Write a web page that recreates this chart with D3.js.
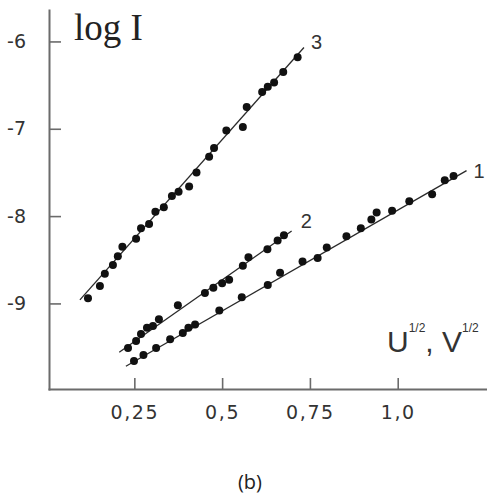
<!DOCTYPE html>
<html>
<head>
<meta charset="utf-8">
<script src="https://cdn.jsdelivr.net/npm/d3@7"></script>
<style>
  html, body { margin: 0; padding: 0; background: #fff; }
  svg { display: block; }
</style>
</head>
<body>
<svg id="chart" width="487" height="497"></svg>
<script>
// ---- data ----
const xTickValues = [0.25, 0.5, 0.75, 1.0];
const xTickLabels = ["0,25", "0,5", "0,75", "1,0"];
const yTickValues = [-6, -7, -8, -9];
const yTickLabels = ["-6", "-7", "-8", "-9"];

const seriesNames = ["1", "2", "3"];

const s1X = [0.249, 0.276, 0.312, 0.352, 0.388, 0.404, 0.423, 0.492, 0.556, 0.630, 0.665, 0.729,
             0.772, 0.798, 0.854, 0.895, 0.925, 0.940, 0.984, 1.033, 1.098, 1.134, 1.159];
const s1Y = [-9.66, -9.59, -9.51, -9.41, -9.34, -9.28, -9.24, -9.08, -8.93, -8.79, -8.65, -8.52,
             -8.48, -8.36, -8.23, -8.14, -8.04, -7.96, -7.94, -7.83, -7.75, -7.59, -7.54];
const fit1X = [0.226, 1.196];
const fit1Y = [-9.72, -7.48];

const s2X = [0.232, 0.255, 0.269, 0.286, 0.303, 0.320, 0.374, 0.451, 0.475, 0.500, 0.520, 0.559,
             0.575, 0.629, 0.658, 0.676];
const s2Y = [-9.51, -9.43, -9.35, -9.28, -9.26, -9.18, -9.02, -8.88, -8.82, -8.77, -8.73, -8.57,
             -8.47, -8.38, -8.28, -8.22];
const fit2X = [0.207, 0.698];
const fit2Y = [-9.56, -8.17];

const s3X = [0.118, 0.152, 0.166, 0.189, 0.203, 0.216, 0.255, 0.269, 0.292, 0.310, 0.334, 0.357,
             0.376, 0.406, 0.427, 0.463, 0.477, 0.512, 0.559, 0.570, 0.614, 0.630, 0.648, 0.674, 0.715];
const s3Y = [-8.94, -8.80, -8.66, -8.56, -8.46, -8.35, -8.26, -8.14, -8.09, -7.95, -7.90, -7.77,
             -7.72, -7.66, -7.50, -7.32, -7.22, -7.02, -6.98, -6.75, -6.58, -6.52, -6.47, -6.35, -6.18];
const fit3X = [0.095, 0.733];
const fit3Y = [-8.96, -6.07];

// ---- drawing ----
const svg = d3.select("#chart");
const x = d3.scaleLinear().domain([0.007, 1.25]).range([49, 485.5]);
const y = d3.scaleLinear().domain([-9.98, -5.64]).range([389, 10]);

const axisColor = "#6b6b6b";
const textColor = "#333";
const tickFont = "'DejaVu Sans', Verdana, sans-serif";

// y axis
const yAxis = d3.axisLeft(y)
  .tickValues(yTickValues)
  .tickFormat((d, i) => yTickLabels[i])
  .tickSize(-12).tickSizeOuter(0).tickPadding(23);
const gy = svg.append("g").attr("transform", `translate(${x(0.007)},0)`).call(yAxis);
gy.select(".domain").attr("stroke", axisColor).attr("stroke-width", 2);
gy.selectAll(".tick line").attr("stroke", axisColor).attr("stroke-width", 1.6);
gy.selectAll(".tick text")
  .attr("fill", textColor)
  .style("font-family", tickFont)
  .style("font-size", "19px");

// x axis
const xAxis = d3.axisBottom(x)
  .tickValues(xTickValues)
  .tickFormat((d, i) => xTickLabels[i])
  .tickSize(-11).tickSizeOuter(0).tickPadding(17);
const gx = svg.append("g").attr("transform", `translate(0,${y(-9.98)})`).call(xAxis);
gx.select(".domain").attr("stroke", axisColor).attr("stroke-width", 2);
gx.selectAll(".tick line").attr("stroke", axisColor).attr("stroke-width", 1.6);
gx.selectAll(".tick text")
  .attr("fill", textColor)
  .style("font-family", tickFont)
  .style("font-size", "19px")
  .style("letter-spacing", "1.6px");

svg.selectAll(".domain").attr("stroke-linecap", "square");

// series
const series = [
  { name: seriesNames[0], xs: s1X, ys: s1Y, fx: fit1X, fy: fit1Y, dx: 7, dy: 7 },
  { name: seriesNames[1], xs: s2X, ys: s2Y, fx: fit2X, fy: fit2Y, dx: 9, dy: -3 },
  { name: seriesNames[2], xs: s3X, ys: s3Y, fx: fit3X, fy: fit3Y, dx: 7, dy: 1 }
];

const line = d3.line().x(d => x(d[0])).y(d => y(d[1]));

series.forEach(s => {
  const fitPts = s.fx.map((v, i) => [v, s.fy[i]]);
  svg.append("path")
    .attr("d", line(fitPts))
    .attr("fill", "none")
    .attr("stroke", "#2a2a2a")
    .attr("stroke-width", 1.3);

  svg.append("g").selectAll("circle")
    .data(s.xs.map((v, i) => [v, s.ys[i]]))
    .join("circle")
    .attr("cx", d => x(d[0]))
    .attr("cy", d => y(d[1]))
    .attr("r", 4)
    .attr("fill", "#111");

  const end = fitPts[fitPts.length - 1];
  svg.append("text")
    .attr("x", x(end[0]) + s.dx)
    .attr("y", y(end[1]) + s.dy)
    .attr("fill", textColor)
    .style("font-family", "'Liberation Sans', Arial, sans-serif")
    .style("font-size", "20px")
    .text(s.name);
});

// axis titles
svg.append("text")
  .attr("x", 74).attr("y", 40)
  .attr("fill", "#222")
  .style("font-family", "'Liberation Serif', 'Times New Roman', serif")
  .style("font-size", "37px")
  .text("log I");

const xt = svg.append("text")
  .attr("x", 387).attr("y", 352)
  .attr("fill", textColor)
  .style("font-family", "'Liberation Sans', Arial, sans-serif")
  .style("font-size", "30px");
xt.append("tspan").text("U");
xt.append("tspan").attr("dy", -20).style("font-size", "12px").text("1/2");
xt.append("tspan").attr("dy", 20).text(", V");
xt.append("tspan").attr("dy", -20).style("font-size", "12px").text("1/2");

// caption
svg.append("text")
  .attr("x", 250).attr("y", 489)
  .attr("text-anchor", "middle")
  .attr("fill", "#222")
  .style("font-family", "'Open Sans', 'Noto Sans', sans-serif")
  .style("font-size", "20px")
  .text("(b)");
</script>
</body>
</html>
